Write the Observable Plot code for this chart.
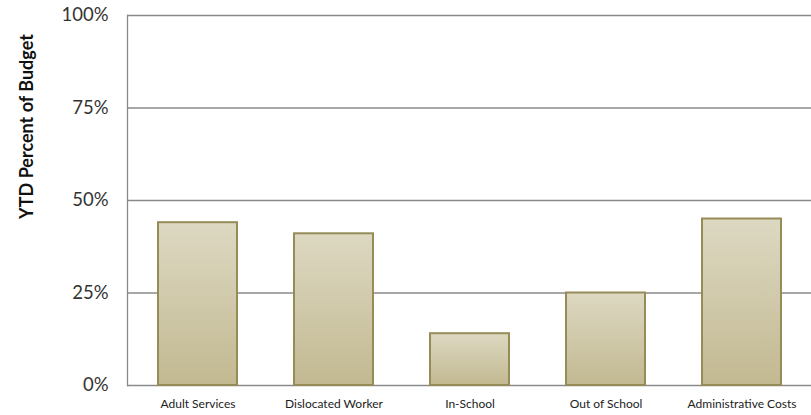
<!DOCTYPE html>
<html>
<head>
<meta charset="utf-8">
<script src="https://cdn.jsdelivr.net/npm/d3@7"></script>
<script src="https://cdn.jsdelivr.net/npm/@observablehq/plot@0.6"></script>
<style>
  body { margin: 0; background: #fff; }
  svg { font-family: Lato, "Open Sans", sans-serif; }
</style>
</head>
<body>
<div id="chart"></div>
<script>
const categories = ["Adult Services", "Dislocated Worker", "In-School", "Out of School", "Administrative Costs"];
const values = [0.44, 0.41, 0.14, 0.25, 0.45];
const yTicks = [0, 0.25, 0.5, 0.75, 1];
const yTitle = "YTD Percent of Budget";

const data = categories.map((c, i) => ({category: c, value: values[i]}));

const plot = Plot.plot({
  width: 811,
  height: 415,
  marginLeft: 127,
  marginRight: 0,
  marginTop: 15,
  marginBottom: 30,
  style: {fontFamily: "Lato, 'Open Sans', sans-serif", background: "#fff"},
  x: {domain: categories, paddingInner: 0.42, paddingOuter: 0.21, label: null},
  y: {domain: [0, 1], label: null},
  marks: [
    Plot.gridY(yTicks, {stroke: "#8a8a8a", strokeOpacity: 1, strokeWidth: 1.3}),
    Plot.frame({anchor: "left", stroke: "#8a8a8a", strokeWidth: 1.3}),
    Plot.barY(data, {x: "category", y: "value", fill: "url(#barGrad)", stroke: "#968c58", strokeWidth: 2}),
    Plot.axisY(yTicks, {tickFormat: d3.format(".0%"), tickSize: 0, tickPadding: 19, fontSize: 18.5, fill: "#333", label: null}),
    Plot.axisX({tickSize: 0, tickPadding: 14, fontSize: 12, fill: "#222", label: null}),
    Plot.text([yTitle], {frameAnchor: "top-left", dx: -107, dy: 111, rotate: -90, text: d => d, fontSize: 18, fontWeight: "bold", fill: "#111", textAnchor: "middle"})
  ]
});

const svg = d3.select(plot);
const defs = svg.insert("defs", ":first-child");
const g = defs.append("linearGradient").attr("id", "barGrad").attr("x1", 0).attr("y1", 0).attr("x2", 0).attr("y2", 1);
g.append("stop").attr("offset", "0%").attr("stop-color", "#ddd8c2");
g.append("stop").attr("offset", "100%").attr("stop-color", "#c2b991");
const f = defs.append("filter").attr("id", "shadow").attr("x", "-20%").attr("y", "-20%").attr("width", "150%").attr("height", "140%");
f.append("feDropShadow").attr("dx", 3).attr("dy", 1).attr("stdDeviation", 3).attr("flood-color", "#000").attr("flood-opacity", 0.18);
svg.selectAll("rect").filter(function() { return this.getAttribute("fill") === "url(#barGrad)"; }).attr("filter", "url(#shadow)");

document.getElementById("chart").appendChild(plot);
</script>
</body>
</html>
